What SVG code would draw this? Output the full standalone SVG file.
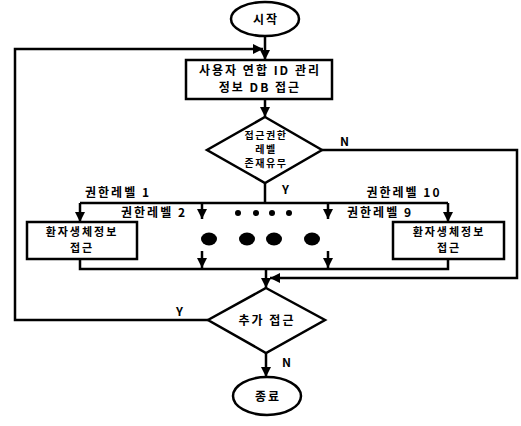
<svg xmlns="http://www.w3.org/2000/svg" width="521" height="426" viewBox="0 0 521 426">
<style>
.s{fill:#fff;stroke:#000;stroke-width:2.5}
.c{fill:none;stroke:#000;stroke-width:2.5}
.t{font-family:"Noto Sans CJK KR","Liberation Sans",sans-serif;font-weight:bold;font-size:12px;fill:#000;letter-spacing:2px}
.b{font-size:11px}
.sm{font-size:10px;letter-spacing:1.5px}
.m{text-anchor:middle}
.d{fill:#000}
</style>
<defs>
<marker id="a" viewBox="0 0 10 10" refX="10" refY="5" markerWidth="4" markerHeight="4" orient="auto" markerUnits="strokeWidth">
<path d="M0,0L10,5L0,10z" fill="#000"/>
</marker>
</defs>
<rect width="521" height="426" fill="#fff"/>
<g id="connectors">
<path class="c" d="M265,36V60" marker-end="url(#a)"/>
<path class="c" d="M208,320H15V49H263" marker-end="url(#a)"/>
<path class="c" d="M265,99V117" marker-end="url(#a)"/>
<path class="c" d="M322,150H517V278H270" marker-end="url(#a)"/>
<path class="c" d="M265,183V203"/>
<path class="c" d="M80,203H448"/>
<path class="c" d="M80,203V222" marker-end="url(#a)"/>
<path class="c" d="M448,203V222" marker-end="url(#a)"/>
<path class="c" d="M202,203V219" marker-end="url(#a)"/>
<path class="c" d="M328,203V219" marker-end="url(#a)"/>
<path class="c" d="M202,251V268" marker-end="url(#a)"/>
<path class="c" d="M328,251V268" marker-end="url(#a)"/>
<path class="c" d="M80,259V269H448V259"/>
<path class="c" d="M266,269V288" marker-end="url(#a)"/>
<path class="c" d="M266,353V377" marker-end="url(#a)"/>
<text class="t" x="340" y="146">N</text>
<text class="t" x="282" y="194">Y</text>
<text class="t" x="176" y="316">Y</text>
<text class="t" x="282" y="367">N</text>
<text class="t m" x="118" y="197">권한레벨 1</text>
<text class="t m" x="404" y="197">권한레벨 10</text>
<text class="t m" x="154" y="217">권한레벨 2</text>
<text class="t m" x="380" y="217">권한레벨 9</text>
</g>
<g id="dots">
<circle class="d" cx="238" cy="213" r="3"/>
<circle class="d" cx="256" cy="213" r="3"/>
<circle class="d" cx="272" cy="213" r="3"/>
<circle class="d" cx="289" cy="213" r="3"/>
<ellipse class="d" cx="209" cy="239" rx="8" ry="6.5"/>
<ellipse class="d" cx="247" cy="239" rx="8" ry="6.5"/>
<ellipse class="d" cx="274" cy="239" rx="8" ry="6.5"/>
<ellipse class="d" cx="312" cy="239" rx="8" ry="6.5"/>
</g>
<g id="start">
<ellipse class="s" cx="265" cy="19" rx="34" ry="17"/>
<text class="t m" x="266" y="24">시작</text>
</g>
<g id="db">
<rect class="s" x="186" y="60" width="146" height="39"/>
<text class="t m" x="260" y="75">사용자 연합 ID 관리</text>
<text class="t m" x="260" y="92">정보 DB 접근</text>
</g>
<g id="check">
<polygon class="s" points="265,117 322,150 265,183 207,150"/>
<text class="t m sm" x="266" y="139">접근권한</text>
<text class="t m sm" x="266" y="153">레벨</text>
<text class="t m sm" x="266" y="167">존재유무</text>
</g>
<g id="box1">
<rect class="s" x="27" y="222" width="110" height="37"/>
<text class="t m b" x="82" y="236">환자생체정보</text>
<text class="t m b" x="82" y="252">접근</text>
</g>
<g id="box10">
<rect class="s" x="393" y="222" width="111" height="37"/>
<text class="t m b" x="449" y="236">환자생체정보</text>
<text class="t m b" x="449" y="252">접근</text>
</g>
<g id="more">
<polygon class="s" points="266,288 325,320 266,353 208,320"/>
<text class="t m" x="267" y="325">추가 접근</text>
</g>
<g id="end">
<ellipse class="s" cx="267" cy="396" rx="34" ry="19"/>
<text class="t m" x="268" y="401">종료</text>
</g>
</svg>
